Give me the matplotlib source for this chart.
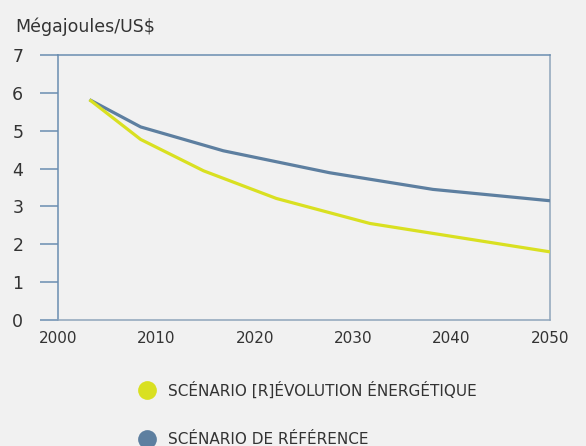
import matplotlib.pyplot as plt
from matplotlib.lines import Line2D

# Data
ref_years = [2003.2, 2008.4, 2016.8, 2027.6, 2038.1, 2050]
ref_values = [5.82, 5.10, 4.47, 3.89, 3.45, 3.15]
rev_years = [2003.2, 2008.4, 2014.8, 2022.2, 2031.7, 2050]
rev_values = [5.82, 4.77, 3.94, 3.21, 2.55, 1.80]
x_ticks = [2000, 2010, 2020, 2030, 2040, 2050]
y_ticks = [0, 1, 2, 3, 4, 5, 6, 7]
labels = ['SCÉNARIO [R]ÉVOLUTION ÉNERGÉTIQUE', 'SCÉNARIO DE RÉFÉRENCE']

bg = '#f1f1f1'
yellow = '#d9e021'
blue = '#5d7fa0'
axis_blue = '#6a8db0'
axis_grey = '#8fa5bb'
text_col = '#333333'

fig = plt.figure(figsize=(5.86, 4.46), dpi=100, facecolor=bg)
ax = fig.add_axes([58/586, 1-320/446, 492/586, 265/446], facecolor=bg)

ax.plot(ref_years, ref_values, color=blue, linewidth=2.3, solid_capstyle='butt', zorder=3)
ax.plot(rev_years, rev_values, color=yellow, linewidth=2.3, solid_capstyle='butt', zorder=3)

ax.set_xlim(2000, 2050)
ax.set_ylim(0, 7)
ax.set_xticks(x_ticks)
ax.set_yticks(y_ticks)

for side in ['left', 'top']:
    ax.spines[side].set_color(axis_blue)
    ax.spines[side].set_linewidth(1.1)
for side in ['bottom', 'right']:
    ax.spines[side].set_color(axis_grey)
    ax.spines[side].set_linewidth(1.1)
for s in ax.spines.values():
    s.set_clip_on(False)

ax.tick_params(axis='y', length=13, width=1.1, color=axis_blue, pad=12,
               labelsize=12.5, labelcolor=text_col)
ax.tick_params(axis='x', length=0, pad=8, labelsize=11, labelcolor=text_col)

fig.text(15/586, 1-27/446, 'Mégajoules/US$', fontsize=12.5, color=text_col,
         va='center', ha='left')

handles = [Line2D([], [], linestyle='none', marker='o', markersize=13.5,
                  markerfacecolor=yellow, markeredgecolor='none'),
           Line2D([], [], linestyle='none', marker='o', markersize=13.5,
                  markerfacecolor=blue, markeredgecolor='none')]
leg = fig.legend(handles, labels, loc='upper left', bbox_to_anchor=(131.5/586, 1-375.5/446),
                 frameon=False, fontsize=11, labelspacing=2.2, handletextpad=0.8,
                 handlelength=1.2, borderaxespad=0)
for t in leg.get_texts():
    t.set_color(text_col)

fig.savefig('out.png', dpi=100, facecolor=bg)
